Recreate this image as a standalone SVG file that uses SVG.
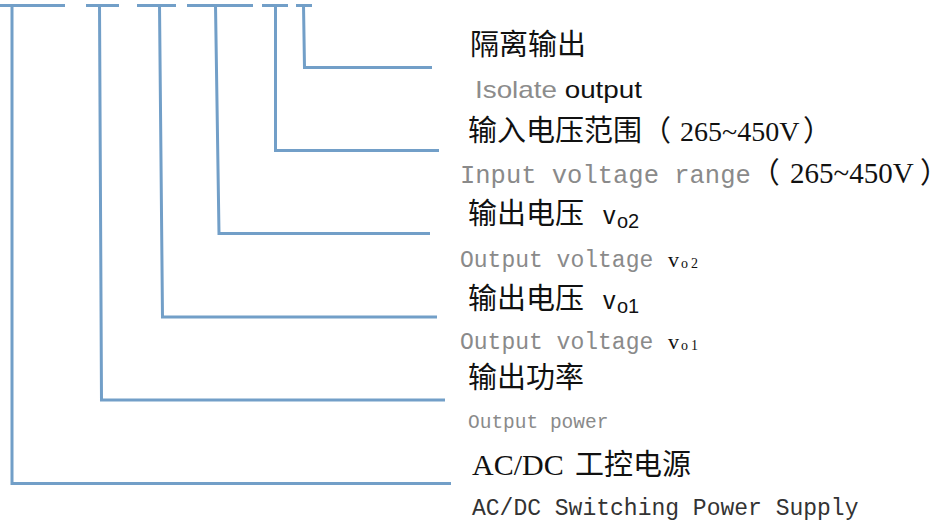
<svg xmlns="http://www.w3.org/2000/svg" width="950" height="526" viewBox="0 0 950 526">
<style>
.ln{fill:none;stroke:#729fc8;stroke-width:3;stroke-linecap:butt;stroke-linejoin:miter}
.cjk{font-family:"Noto Sans CJK SC","Noto Sans CJK JP",sans-serif;font-size:29px;fill:#111}
.tm{font-family:"Liberation Serif","Times New Roman",serif;fill:#111}
.sn{font-family:"Liberation Sans",Arial,sans-serif;fill:#111}
.mono{font-family:"Liberation Mono","Courier New",monospace;fill:#8a8a8a}
.gray{fill:#8c8c8c}
</style>
<rect width="950" height="526" fill="#fff"/>
<g id="connectors">
<line class="ln" x1="0" y1="5.5" x2="65" y2="5.5"/>
<line class="ln" x1="86" y1="5.5" x2="119" y2="5.5"/>
<line class="ln" x1="137" y1="5.5" x2="176" y2="5.5"/>
<line class="ln" x1="187" y1="5.5" x2="253" y2="5.5"/>
<line class="ln" x1="262" y1="5.5" x2="288" y2="5.5"/>
<line class="ln" x1="296" y1="5.5" x2="312" y2="5.5"/>
<polyline class="ln" points="303.5,5 304.5,67.5 432,67.5"/>
<polyline class="ln" points="275.5,5 275.5,150.5 439,150.5"/>
<polyline class="ln" points="215.5,5 219,233.5 430,233.5"/>
<polyline class="ln" points="159.5,5 162.5,317 437,317"/>
<polyline class="ln" points="99.5,5 101.5,400 445,400"/>
<polyline class="ln" points="12,5 12,483.5 451,483.5"/>
</g>
<g id="node-isolate">
<text class="cjk" x="470" y="55">隔离输出</text>
<text class="sn" x="475" y="98" font-size="24" textLength="167" lengthAdjust="spacingAndGlyphs"><tspan class="gray">Isolate</tspan> output</text>
</g>
<g id="node-input">
<text class="cjk" x="468" y="141">输入电压范围（<tspan class="tm" x="680" font-size="28">265~450V</tspan><tspan x="803">）</tspan></text>
<text class="mono" x="460" y="183" font-size="25.5">Input voltage range<tspan class="cjk" font-size="28">（</tspan><tspan class="tm" x="790" font-size="29">265~450V</tspan><tspan class="cjk" x="920" font-size="28">）</tspan></text>
</g>
<g id="node-vo2">
<text class="cjk" x="468" y="224">输出电压<tspan class="sn" x="603" font-size="25">v</tspan><tspan class="sn" x="617" y="228" font-size="20">o2</tspan></text>
<text class="mono" x="460" y="267" font-size="23">Output voltage<tspan class="tm" x="668" font-size="22" fill="#111">v</tspan><tspan class="tm" x="681" y="268" font-size="14" fill="#111" letter-spacing="3">o2</tspan></text>
</g>
<g id="node-vo1">
<text class="cjk" x="468" y="309">输出电压<tspan class="sn" x="603" font-size="25">v</tspan><tspan class="sn" x="617" y="313" font-size="20">o1</tspan></text>
<text class="mono" x="460" y="349" font-size="23">Output voltage<tspan class="tm" x="668" font-size="22" fill="#111">v</tspan><tspan class="tm" x="681" y="350" font-size="14" fill="#111" letter-spacing="3">o1</tspan></text>
</g>
<g id="node-power">
<text class="cjk" x="468" y="388">输出功率</text>
<text class="mono" x="468" y="428" font-size="19.5">Output power</text>
</g>
<g id="node-acdc">
<text class="tm" x="472" y="475" font-size="30">AC/DC <tspan class="cjk" x="575" font-size="30">工控电源</tspan></text>
<text class="mono" x="472" y="515" font-size="23" style="fill:#333">AC/DC Switching Power Supply</text>
</g>
</svg>
